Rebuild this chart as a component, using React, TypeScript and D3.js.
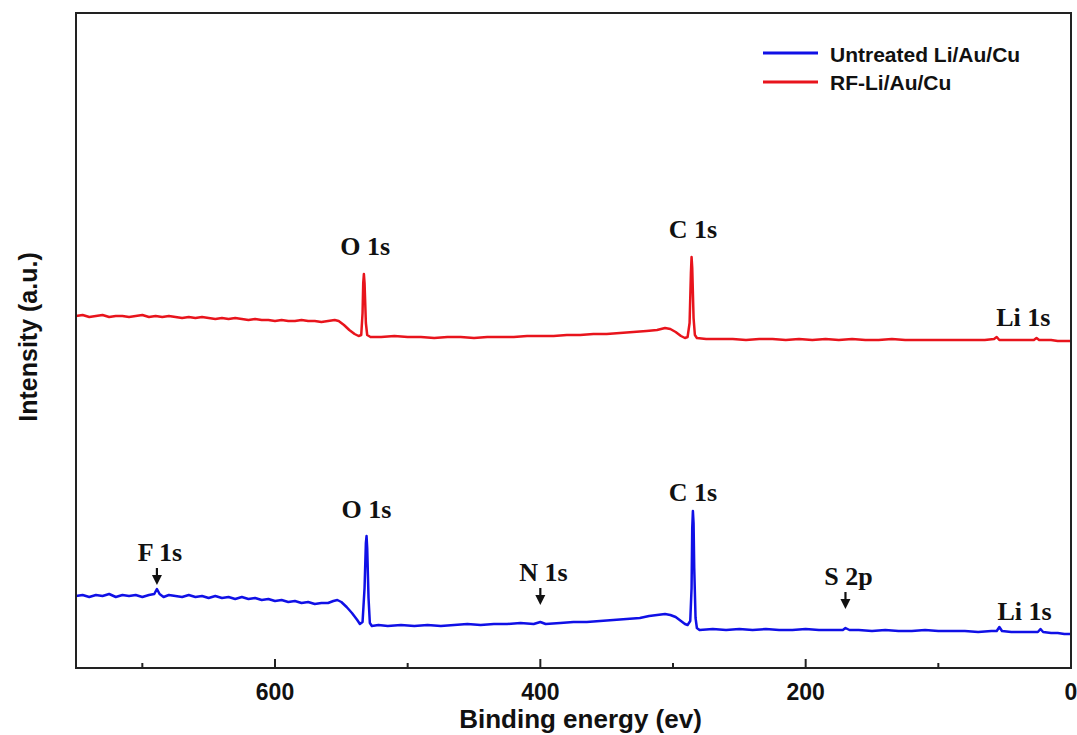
import React from "react";
import * as d3 from "d3";

// Binding energy (eV) / intensity (a.u.)
const untreatedEnergy = [750,745,740,735,730,725,720,715,710,705,700,695,691,689,687,684,680,675,670,665,660,655,650,645,640,635,630,625,620,615,610,605,600,595,590,585,580,575,570,565,560,556,553,550,546,542,538,536,534,532.5,531.5,531,530.5,529.5,528.5,527,522,515,505,495,485,475,465,455,445,435,425,415,405,400,396,385,375,365,355,345,335,325,318,312,306,302,298,294,291,289,287,286,285.5,285,284.5,284,283,282,280,270,260,250,240,230,220,210,200,190,180,172,170,167,160,150,140,130,120,110,100,90,80,70,60,56,54,52,45,35,28,25,23,21,15,10,5,0];
const untreatedIntensity = [72,73,71,73,72,74,71,73,72,73,71,73,74,79,74,71,73,72,71,73,71,72,70,72,70,71,69,71,69,70,68,69,67,68,66,67,65,66,64,65,65,67,68,66,61,55,48,44,46,80,125,132,120,70,45,42,43,42,43,42,43,42,43,44,43,44,44,45,44,46,44,45,46,46,47,48,49,50,52,53,54,53,51,47,44,43,47,80,140,157,145,100,50,40,38,39,38,39,38,39,38,38,39,38,38,38,40,38,38,37,38,37,37,38,37,37,37,36,37,37,41,37,36,36,36,36,39,36,35,35,34,34];

const rfEnergy = [750,745,740,735,730,725,720,715,710,705,700,695,690,685,680,675,670,665,660,655,650,645,640,635,630,625,620,615,610,605,600,595,590,585,580,575,570,565,560,555,552,548,544,540,537,535,534,533.5,533,532.5,531.5,530.5,528,520,510,500,490,480,470,460,450,440,430,420,410,400,390,380,370,360,350,340,330,320,312,306,302,298,294,291,289,287.5,286.5,286,285.5,284.5,283.5,282,275,265,255,245,235,225,215,205,195,185,175,165,155,145,135,125,115,105,95,85,75,65,58,56,54,45,35,28,26,24,15,10,5,0];
const rfIntensity = [352,353,351,352,353,351,352,352,351,352,353,351,352,351,352,351,350,351,350,351,350,349,350,349,350,349,348,349,348,348,347,348,347,347,348,347,347,346,347,348,347,343,338,334,332,333,355,385,394,385,345,333,331,331,332,331,331,330,331,331,330,331,331,331,332,332,332,333,333,334,334,335,336,337,338,340,339,336,332,330,331,345,395,411,400,350,333,330,329,329,329,328,329,329,328,329,328,329,328,329,328,328,329,328,328,328,328,328,328,328,329,331,328,328,328,328,330,328,328,327,327,327];

const majorTicks = [600, 400, 200, 0];
const minorTicks = [700, 500, 300, 100];

const seriesNames = ["Untreated Li/Au/Cu", "RF-Li/Au/Cu"];
const seriesColors = ["#1010e6", "#e8141c"];

const peakLabels = [
  { text: "O 1s", e: 531, v: 150, arrow: false },
  { text: "C 1s", e: 285, v: 167, arrow: false },
  { text: "F 1s", e: 689, v: 107, arrow: true },
  { text: "N 1s", e: 400, v: 87, arrow: true },
  { text: "S 2p", e: 170, v: 83, arrow: true },
  { text: "Li 1s", e: 35, v: 48, arrow: false },
  { text: "O 1s", e: 532, v: 413, arrow: false },
  { text: "C 1s", e: 285, v: 430, arrow: false },
  { text: "Li 1s", e: 36, v: 342, arrow: false },
];

export default function App() {
  const W = 1077, H = 735;
  const L = 76, R = 1071, T = 13, B = 668;
  const x = d3.scaleLinear().domain([750, 0]).range([L, R]);
  const y = d3.scaleLinear().domain([0, 655]).range([B, T]);
  const line = d3.line<[number, number]>().x(d => x(d[0])).y(d => y(d[1]));
  const blue = untreatedEnergy.map((e, i) => [e, untreatedIntensity[i]] as [number, number]);
  const red = rfEnergy.map((e, i) => [e, rfIntensity[i]] as [number, number]);
  const sans = "'Liberation Sans', Arial, sans-serif";
  const serif = "'Liberation Serif', 'Times New Roman', serif";
  return (
    <svg width={W} height={H} style={{ position: "absolute", left: 0, top: 0, background: "#fff" }}>
      <path d={line(blue) || ""} fill="none" stroke={seriesColors[0]} strokeWidth={2.5} strokeLinejoin="round" />
      <path d={line(red) || ""} fill="none" stroke={seriesColors[1]} strokeWidth={2.5} strokeLinejoin="round" />
      <rect x={L} y={T} width={R - L} height={B - T} fill="none" stroke="#222" strokeWidth={2} />
      {majorTicks.map(t => (
        <g key={"M" + t}>
          <line x1={x(t)} x2={x(t)} y1={B} y2={B - 9} stroke="#222" strokeWidth={2} />
          <text x={x(t)} y={700} textAnchor="middle" fontFamily={sans} fontWeight="bold" fontSize={23} fill="#111">{t}</text>
        </g>
      ))}
      {minorTicks.map(t => (
        <line key={"m" + t} x1={x(t)} x2={x(t)} y1={B} y2={B - 5} stroke="#222" strokeWidth={2} />
      ))}
      <text x={(L + R) / 2 + 7} y={728} textAnchor="middle" fontFamily={sans} fontWeight="bold" fontSize={26} fill="#111">Binding energy (ev)</text>
      <text transform={`translate(37,${337}) rotate(-90)`} textAnchor="middle" fontFamily={sans} fontWeight="bold" fontSize={25} fill="#111">Intensity (a.u.)</text>
      {seriesNames.map((n, i) => (
        <g key={n}>
          <line x1={763} x2={818} y1={53 + i * 29} y2={53 + i * 29} stroke={seriesColors[i]} strokeWidth={3} />
          <text x={830} y={62 + i * 28} fontFamily={sans} fontWeight="bold" fontSize={21} fill="#111">{n}</text>
        </g>
      ))}
      {peakLabels.map((p, i) => {
        const px = x(p.e);
        const py = y(p.v);
        if (p.arrow) {
          return (
            <g key={i}>
              <text x={px + 3} y={py} textAnchor="middle" fontFamily={serif} fontWeight="bold" fontSize={26} fill="#111">{p.text}</text>
              <line x1={px} x2={px} y1={py + 7} y2={py + 16} stroke="#111" strokeWidth={2.2} />
              <path d={`M${px - 5},${py + 14} L${px + 5},${py + 14} L${px},${py + 24} Z`} fill="#111" />
            </g>
          );
        }
        return (
          <text key={i} x={px} y={py} textAnchor="middle" fontFamily={serif} fontWeight="bold" fontSize={26} fill="#111">{p.text}</text>
        );
      })}
    </svg>
  );
}
